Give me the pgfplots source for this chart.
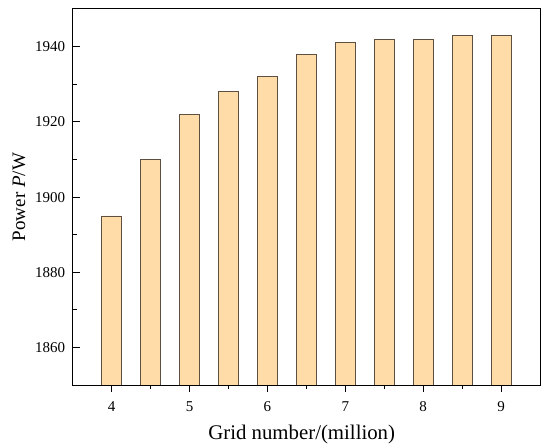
\documentclass[border=0pt]{standalone}
\usepackage{pgfplots}
\pgfplotsset{compat=1.18}
\usepackage{fontspec}
\setmainfont{Liberation Serif}
\definecolor{barfill}{HTML}{FFDCA8}
\definecolor{baredge}{HTML}{5E5040}
\newcommand{\tlfont}{\fontsize{15}{17}\selectfont}
\begin{document}
\begin{tikzpicture}
\begin{axis}[
  scale only axis, width=467pt, height=376pt,
  xmin=3.5, xmax=9.5, ymin=1850, ymax=1950,
  axis line style={line width=1pt},
  xtick={4,5,6,7,8,9}, minor xtick={4.5,5.5,6.5,7.5,8.5},
  ytick={1860,1880,1900,1920,1940}, minor ytick={1850,1870,1890,1910,1930,1950},
  tick align=inside, xtick pos=bottom, ytick pos=left,
  major tick length=7pt, minor tick length=4pt,
  tick style={black, line width=1pt},
  xticklabel={\tlfont\pgfmathprintnumber[assume math mode=true]{\tick}},
  yticklabel={\tlfont\pgfmathprintnumber[assume math mode=true,set thousands separator={}]{\tick}},
  xticklabel style={yshift=-6pt},
  yticklabel style={xshift=-4pt},
  xlabel={Grid number/(million)}, ylabel={Power \textit{P}/W},
  xlabel style={font=\fontsize{20.8}{24}\selectfont, at={(axis description cs:0.49,-0.144)}, anchor=base},
  ylabel style={font=\fontsize{19}{22}\selectfont, at={(axis description cs:-0.102,0.5)}, anchor=base},
  ybar, bar width=20pt,
  axis on top,
]
\addplot[fill=barfill, draw=baredge, line width=0.8pt] coordinates {
  (4,1895) (4.5,1910) (5,1922) (5.5,1928) (6,1932) (6.5,1938)
  (7,1941) (7.5,1942) (8,1942) (8.5,1943) (9,1943)
};
\coordinate (bbsw) at (rel axis cs:-0.1556,-0.1596);
\coordinate (bbne) at (rel axis cs:1.0214,1.0239);
\end{axis}
\pgfresetboundingbox
\path[use as bounding box] (bbsw) rectangle (bbne);
\end{tikzpicture}
\end{document}
